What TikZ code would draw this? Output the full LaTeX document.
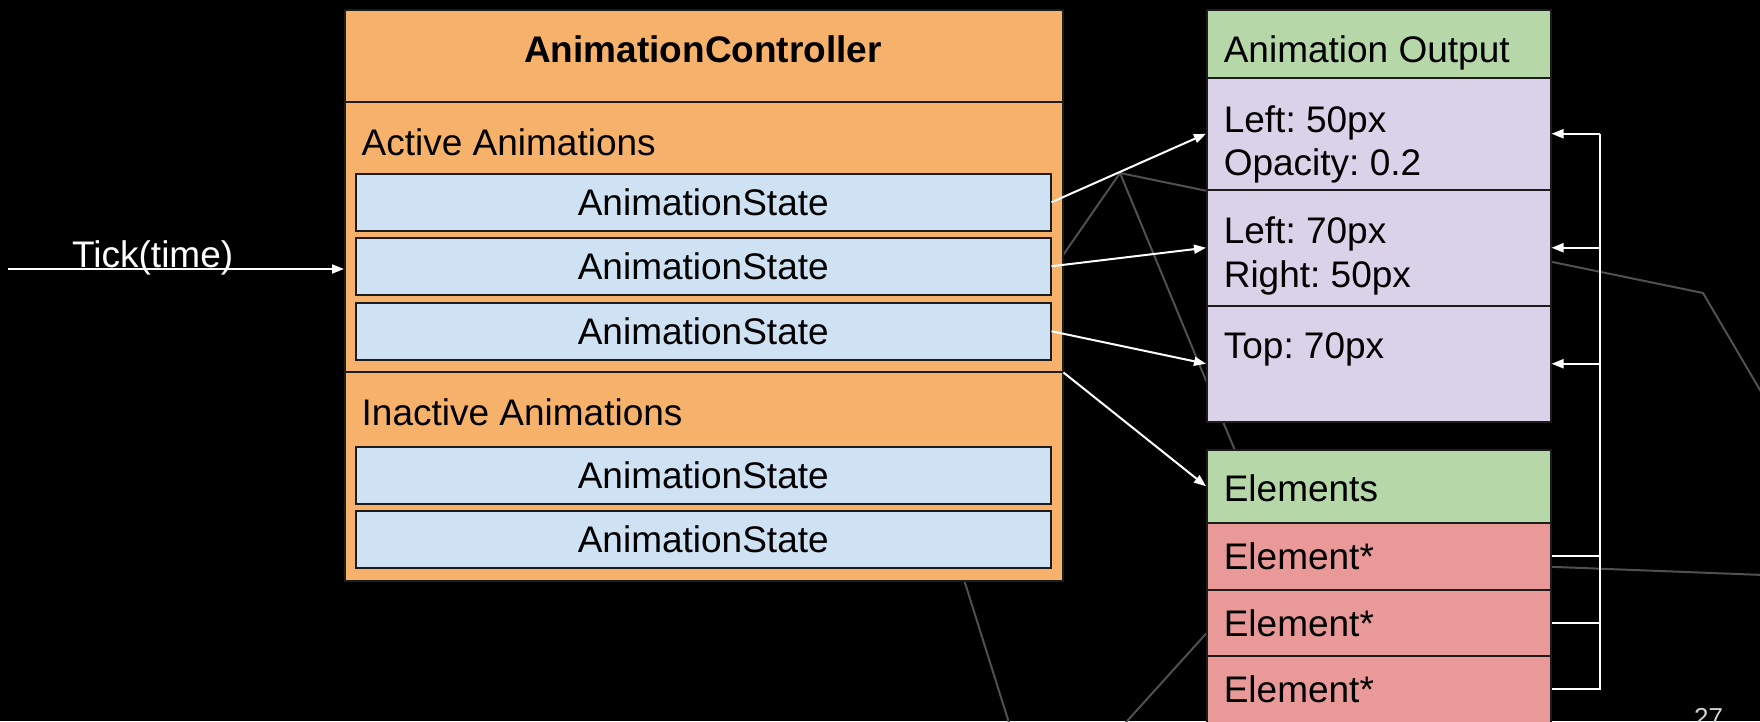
\documentclass[tikz,border=0pt]{standalone}
\usepackage{fontspec}
\setmainfont{Liberation Sans}
\frenchspacing
\usetikzlibrary{arrows.meta}
\definecolor{orangeF}{HTML}{F6B26B}
\definecolor{blueF}{HTML}{CFE2F3}
\definecolor{greenF}{HTML}{B6D7A8}
\definecolor{purpleF}{HTML}{D9D2E9}
\definecolor{redF}{HTML}{EA9999}
\definecolor{boxline}{HTML}{1C1C1C}
\definecolor{bgline}{HTML}{505050}
\definecolor{pagenum}{HTML}{D0D0D0}
\begin{document}
\begin{tikzpicture}[x=1pt,y=-1pt,
  box/.style={draw=boxline, line width=1.5pt, inner sep=0pt, anchor=north west},
  txt/.style={font=\fontsize{37}{44}\selectfont},
  statebox/.style={box, txt, fill=blueF, minimum width=695pt, minimum height=57pt},
  lbl/.style={txt, anchor=base west, inner sep=0pt},
  bg/.style={draw=bgline, line width=2pt},
  wire/.style={draw=white, line width=2pt},
  arr/.style={wire, -{Triangle[length=12pt,width=9pt]}}]
\fill[black] (0,0) rectangle (1760,721);
\useasboundingbox (0,0) rectangle (1760,721);
% background decoration lines
\draw[bg] (1000,346) -- (1120,173) -- (1703,293) -- (1760,390) -- (1790,441);
\draw[bg] (1120,173) -- (1299,605);
\draw[bg] (1400,561) -- (1790,576);
\draw[bg] (939,500) -- (1015,742);
\draw[bg] (1250,585) -- (1110,740);
% controller
\node[box, fill=orangeF, minimum width=718pt, minimum height=92pt] (head) at (344,9) {};
\node[box, fill=orangeF, minimum width=718pt, minimum height=270pt] (active) at (344,101) {};
\node[box, fill=orangeF, minimum width=718pt, minimum height=209pt] (inactive) at (344,371) {};
\node[txt, anchor=base, inner sep=0pt, font=\fontsize{37}{44}\selectfont\bfseries] (title) at (703,62) {AnimationController};
\node[lbl] (actlbl) at (361.5,155) {Active Animations};
\node[lbl] (inactlbl) at (361.5,425) {Inactive Animations};
\node[statebox] (s1) at (355,173) {AnimationState};
\node[statebox] (s2) at (355,237) {AnimationState};
\node[statebox] (s3) at (355,302) {AnimationState};
\node[statebox] (s4) at (355,446) {AnimationState};
\node[statebox] (s5) at (355,510) {AnimationState};
% output
\node[box, fill=greenF, minimum width=344pt, minimum height=68pt] (outHead) at (1206,9) {};
\node[box, fill=purpleF, minimum width=344pt, minimum height=112pt] (out1) at (1206,77) {};
\node[box, fill=purpleF, minimum width=344pt, minimum height=116pt] (out2) at (1206,189) {};
\node[box, fill=purpleF, minimum width=344pt, minimum height=116pt] (out3) at (1206,305) {};
\node[lbl] (outlbl) at (1223.6,62) {Animation Output};
\node[lbl] (o1a) at (1223.6,132) {Left: 50px};
\node[lbl] (o1b) at (1223.6,175) {Opacity: 0.2};
\node[lbl] (o2a) at (1223.6,243) {Left: 70px};
\node[lbl] (o2b) at (1223.6,287) {Right: 50px};
\node[lbl] (o3a) at (1223.6,358) {Top: 70px};
% elements
\node[box, fill=greenF, minimum width=344pt, minimum height=73pt] (elHead) at (1206,449) {};
\node[box, fill=redF, minimum width=344pt, minimum height=67pt] (el1) at (1206,522) {};
\node[box, fill=redF, minimum width=344pt, minimum height=66pt] (el2) at (1206,589) {};
\node[box, fill=redF, minimum width=344pt, minimum height=67pt] (el3) at (1206,655) {};
\node[lbl] (ellbl) at (1223.6,501) {Elements};
\node[lbl] (e1) at (1223.6,569) {Element*};
\node[lbl] (e2) at (1223.6,636) {Element*};
\node[lbl] (e3) at (1223.6,702) {Element*};
% connectors
\coordinate (tickStart) at (8,269);
\draw[arr] (tickStart) -- (tickStart -| active.west);
\node[lbl, text=white] (ticklbl) at (72,267) {Tick(time)};
\draw[arr] (s1.east) -- (out1.west);
\draw[arr] (s2.east) -- (out2.west);
\draw[arr] (s3.east) -- (out3.west);
\draw[arr] (active.south east) -- (elHead.west);
\coordinate (bus) at (1600,0);
\draw[wire] (el1.east) -- (el1.east -| bus);
\draw[wire] (el2.east) -- (el2.east -| bus);
\draw[wire] (el3.east) -- (el3.east -| bus) -- (bus |- out1.east);
\draw[arr] (bus |- out1.east) -- (out1.east);
\draw[arr] (bus |- out2.east) -- (out2.east);
\draw[arr] (bus |- out3.east) -- (out3.east);
\node[anchor=base west, inner sep=0pt, text=pagenum, font=\fontsize{26}{30}\selectfont] (pg) at (1694,726) {27};
\end{tikzpicture}
\end{document}
